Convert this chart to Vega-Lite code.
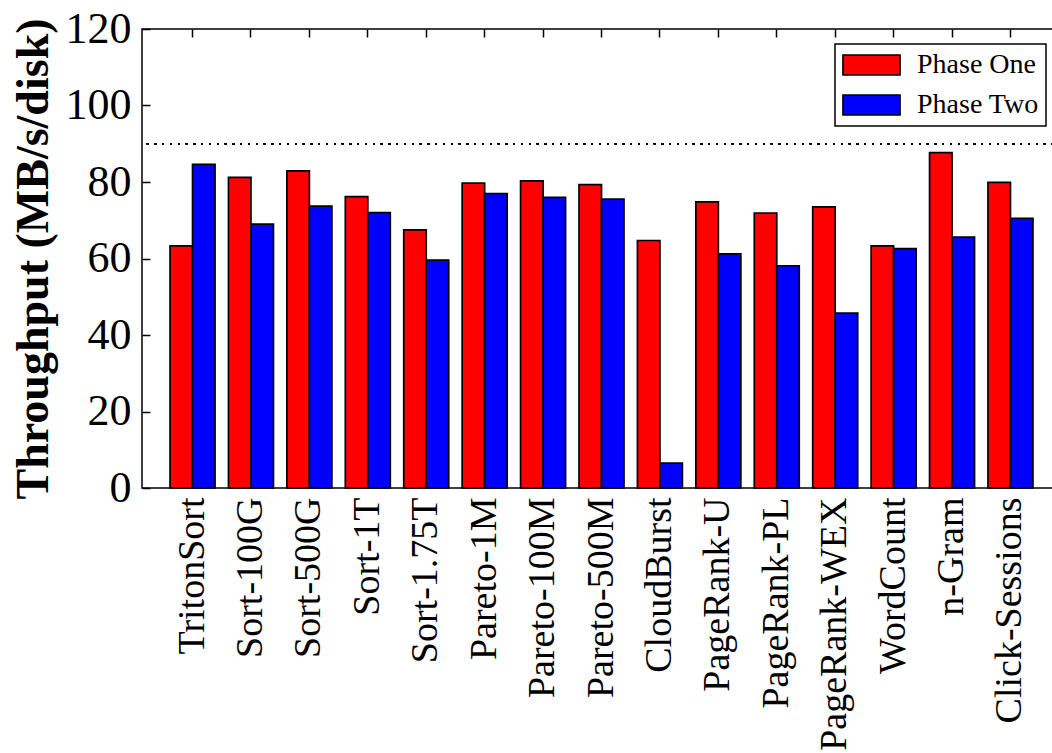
{
  "$schema": "https://vega.github.io/schema/vega-lite/v6.json",
  "width": 919,
  "height": 459,
  "autosize": "none",
  "padding": {"left": 142, "top": 29, "right": 0, "bottom": 265},
  "background": "white",
  "config": {
    "view": {"stroke": "black", "strokeWidth": 1.5},
    "font": "Liberation Serif"
  },
  "data": {
    "values": [
      {"job": "TritonSort", "phase": "Phase One", "value": 63.3},
      {"job": "TritonSort", "phase": "Phase Two", "value": 84.6},
      {"job": "Sort-100G", "phase": "Phase One", "value": 81.2},
      {"job": "Sort-100G", "phase": "Phase Two", "value": 69.0},
      {"job": "Sort-500G", "phase": "Phase One", "value": 82.9},
      {"job": "Sort-500G", "phase": "Phase Two", "value": 73.7},
      {"job": "Sort-1T", "phase": "Phase One", "value": 76.2},
      {"job": "Sort-1T", "phase": "Phase Two", "value": 72.0},
      {"job": "Sort-1.75T", "phase": "Phase One", "value": 67.5},
      {"job": "Sort-1.75T", "phase": "Phase Two", "value": 59.6},
      {"job": "Pareto-1M", "phase": "Phase One", "value": 79.7},
      {"job": "Pareto-1M", "phase": "Phase Two", "value": 77.0},
      {"job": "Pareto-100M", "phase": "Phase One", "value": 80.3},
      {"job": "Pareto-100M", "phase": "Phase Two", "value": 76.0},
      {"job": "Pareto-500M", "phase": "Phase One", "value": 79.3},
      {"job": "Pareto-500M", "phase": "Phase Two", "value": 75.5},
      {"job": "CloudBurst", "phase": "Phase One", "value": 64.7},
      {"job": "CloudBurst", "phase": "Phase Two", "value": 6.5},
      {"job": "PageRank-U", "phase": "Phase One", "value": 74.8},
      {"job": "PageRank-U", "phase": "Phase Two", "value": 61.2},
      {"job": "PageRank-PL", "phase": "Phase One", "value": 71.9},
      {"job": "PageRank-PL", "phase": "Phase Two", "value": 58.1},
      {"job": "PageRank-WEX", "phase": "Phase One", "value": 73.5},
      {"job": "PageRank-WEX", "phase": "Phase Two", "value": 45.7},
      {"job": "WordCount", "phase": "Phase One", "value": 63.3},
      {"job": "WordCount", "phase": "Phase Two", "value": 62.6},
      {"job": "n-Gram", "phase": "Phase One", "value": 87.7},
      {"job": "n-Gram", "phase": "Phase Two", "value": 65.6},
      {"job": "Click-Sessions", "phase": "Phase One", "value": 79.9},
      {"job": "Click-Sessions", "phase": "Phase Two", "value": 70.5}
    ]
  },
  "resolve": {"axis": {"x": "independent"}},
  "layer": [
    {
      "mark": {"type": "bar", "stroke": "black", "strokeWidth": 1.7},
      "encoding": {
        "x": {
          "field": "job",
          "type": "nominal",
          "sort": null,
          "scale": {"type": "band", "paddingInner": 0.23, "paddingOuter": 0.48, "align": 0.5},
          "axis": {
            "orient": "bottom",
            "title": null,
            "domain": false,
            "ticks": false,
            "labelAngle": -90,
            "labelAlign": "right",
            "labelBaseline": "middle",
            "labelFont": "Liberation Serif",
            "labelFontSize": 38,
            "labelColor": "black",
            "labelPadding": 9,
            "labelLimit": 400
          }
        },
        "xOffset": {"field": "phase", "type": "nominal", "sort": ["Phase One", "Phase Two"]},
        "y": {
          "field": "value",
          "type": "quantitative",
          "scale": {"domain": [0, 120], "nice": false},
          "axis": {
            "orient": "left",
            "zindex": 2,
            "values": [0, 20, 40, 60, 80, 100, 120],
            "grid": false,
            "domain": false,
            "ticks": true,
            "tickSize": -8,
            "tickColor": "black",
            "tickOpacity": 1,
            "tickWidth": 1.5,
            "labelFont": "Liberation Serif",
            "labelFontSize": 44,
            "labelColor": "black",
            "labelPadding": 19,
            "title": "Throughput (MB/s/disk)",
            "titleFont": "Liberation Serif",
            "titleFontSize": 46,
            "titleFontWeight": "bold",
            "titleColor": "black",
            "titlePadding": 8
          }
        },
        "color": {
          "field": "phase",
          "type": "nominal",
          "scale": {"domain": ["Phase One", "Phase Two"], "range": ["#ff0000", "#0000ff"]},
          "legend": {
            "title": null,
            "orient": "top-right",
            "offset": 15,
            "padding": 7,
            "fillColor": "white",
            "strokeColor": "black",
            "cornerRadius": 0,
            "symbolType": "M-2.85,-1H2.85V1H-2.85Z",
            "symbolSize": 400,
            "symbolStrokeColor": "black",
            "symbolStrokeWidth": 1.7,
            "symbolOpacity": 1,
            "symbolOffset": 15.5,
            "labelOffset": 31.5,
            "rowPadding": 12,
            "labelFont": "Liberation Serif",
            "labelFontSize": 28,
            "labelColor": "black",
            "labelLimit": 300,
            "labelExpr": "datum.label == 'Phase Two' ? 'Phase Two\u00a0' : datum.label",
            "encode": {
              "legend": {"update": {"strokeWidth": {"value": 1.5}}},
              "symbols": {"update": {"stroke": {"value": "black"}, "strokeWidth": {"value": 1.7}}}
            }
          }
        }
      }
    },
    {
      "mark": {"type": "rule", "color": "black", "strokeWidth": 1.5, "strokeDash": [1.5, 6.3]},
      "encoding": {"y": {"datum": 90}}
    },
    {
      "mark": {"type": "bar", "opacity": 0},
      "encoding": {
        "x": {
          "field": "job",
          "type": "nominal",
          "sort": null,
          "axis": {
            "orient": "top",
            "zindex": 2,
            "title": null,
            "domain": false,
            "labels": false,
            "ticks": true,
            "tickSize": -8,
            "tickColor": "black",
            "tickOpacity": 1,
            "tickWidth": 1.5
          }
        }
      }
    }
  ]
}
